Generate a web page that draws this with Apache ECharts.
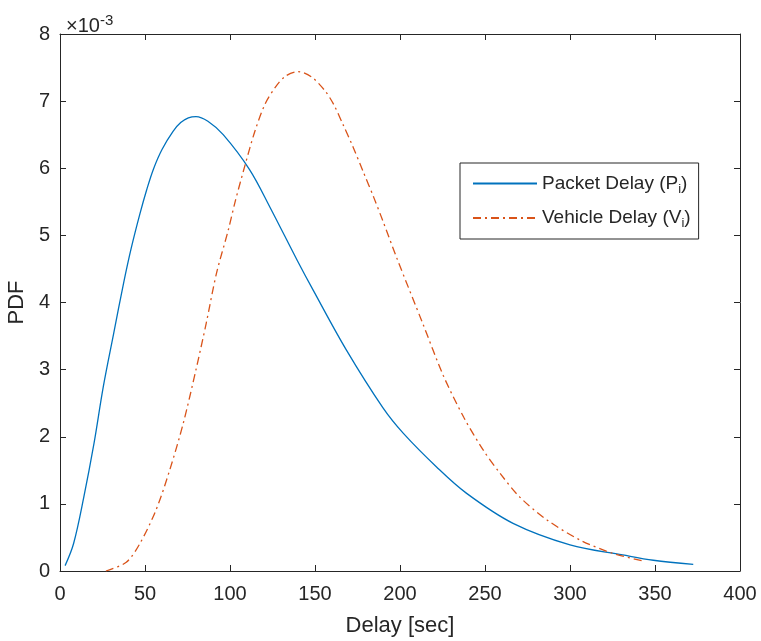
<!DOCTYPE html>
<html>
<head>
<meta charset="utf-8">
<script src="https://cdn.jsdelivr.net/npm/echarts@6/dist/echarts.min.js"></script>
<style>
  html, body { margin: 0; padding: 0; background: #fff; }
  #pdf { width: 761px; height: 641px; }
</style>
</head>
<body>
<div id="pdf"></div>
<script>
var packetX = [3, 8, 14, 20, 25.5, 31.5, 37.5, 42, 47, 51, 55, 60, 66.5, 71, 75.5, 80, 87, 96, 111.5, 123.5, 139.5, 149, 168.5, 190, 202, 221.5, 239, 266.5, 300, 331, 349, 372.5];
var packetY = [0.08, 0.41, 1.10, 1.90, 2.75, 3.53, 4.30, 4.82, 5.32, 5.68, 5.99, 6.28, 6.55, 6.68, 6.75, 6.77, 6.70, 6.50, 5.98, 5.42, 4.63, 4.18, 3.29, 2.43, 2.05, 1.55, 1.16, 0.71, 0.39, 0.24, 0.16, 0.10];

var vehicleX = [27, 39, 47, 56.5, 64.5, 72.5, 80, 86, 92, 99, 103, 109, 114.5, 120.5, 126.5, 132.5, 140, 148, 156, 161, 166.5, 172.5, 178.5, 184.5, 190, 198, 213.5, 225.5, 237.5, 249, 259, 270.5, 286.5, 306, 325.5, 343];
var vehicleY = [0, 0.13, 0.41, 0.91, 1.50, 2.20, 3.00, 3.69, 4.43, 5.08, 5.50, 6.06, 6.54, 6.95, 7.20, 7.37, 7.44, 7.36, 7.15, 6.95, 6.65, 6.31, 5.94, 5.57, 5.21, 4.67, 3.68, 2.91, 2.29, 1.80, 1.45, 1.10, 0.76, 0.46, 0.26, 0.15];

var xTicks = [0, 50, 100, 150, 200, 250, 300, 350, 400];
var yTicks = [0, 1, 2, 3, 4, 5, 6, 7, 8];

function pairs(xs, ys) {
  return xs.map(function (x, i) { return [x, ys[i] / 1000]; });
}

var axisCol = '#262626';
var font = 'Liberation Sans, Arial, Helvetica, sans-serif';

var myChart = echarts.init(document.getElementById('pdf'));

function boxAxis(pos, extra) {
  var a = {
    type: 'value',
    position: pos,
    axisLine: { show: true, onZero: false, lineStyle: { color: axisCol, width: 1 } },
    axisTick: { show: true, inside: true, length: 6, lineStyle: { color: axisCol } },
    splitLine: { show: false },
    axisLabel: { show: false }
  };
  for (var k in extra) a[k] = extra[k];
  return a;
}

var xMin = xTicks[0], xMax = xTicks[xTicks.length - 1];
var yMin = yTicks[0] / 1000, yMax = yTicks[yTicks.length - 1] / 1000;

option = {
  backgroundColor: '#fff',
  animation: false,
  textStyle: { fontFamily: font },
  grid: { left: 60, right: 21, top: 34, bottom: 70, outerBoundsMode: 'none', containLabel: false },
  title: {
    text: '\u00d710{sup|-3}',
    left: 61,
    top: 8,
    textStyle: {
      fontFamily: font, fontSize: 20, fontWeight: 'normal', color: axisCol,
      rich: { sup: { fontSize: 15, verticalAlign: 'top', padding: [0, 0, 12, 0], color: axisCol, fontFamily: font } }
    }
  },
  legend: {
    orient: 'vertical',
    left: 460,
    top: 163,
    padding: [11, 8, 9, 12],
    itemGap: 13,
    itemWidth: 64,
    itemHeight: 14,
    backgroundColor: '#fff',
    borderColor: axisCol,
    borderWidth: 1,
    borderRadius: 0,
    itemStyle: { opacity: 0 },
    data: ['Packet Delay', 'Vehicle Delay'],
    formatter: function (name) {
      return name === 'Packet Delay' ? 'Packet Delay (P{sub|i})' : 'Vehicle Delay (V{sub|i})';
    },
    textStyle: {
      fontFamily: font, fontSize: 19, color: axisCol,
      rich: { sub: { fontSize: 13, verticalAlign: 'bottom', padding: [11, 0, 0, 0], fontFamily: font, color: axisCol } }
    }
  },
  xAxis: [
    boxAxis('bottom', {
      min: xMin, max: xMax, interval: 50,
      name: 'Delay [sec]', nameLocation: 'middle', nameGap: 44,
      nameTextStyle: { fontFamily: font, fontSize: 22, color: axisCol },
      axisLabel: { show: true, margin: 13, fontSize: 20, color: axisCol, fontFamily: font }
    }),
    boxAxis('top', { min: xMin, max: xMax, interval: 50 })
  ],
  yAxis: [
    boxAxis('left', {
      min: yMin, max: yMax, interval: 0.001,
      name: 'PDF', nameLocation: 'middle', nameGap: 31,
      nameTextStyle: { fontFamily: font, fontSize: 22, color: axisCol },
      axisLabel: {
        show: true, margin: 10, fontSize: 20, color: axisCol, fontFamily: font,
        formatter: function (v) { return String(Math.round(v * 1000)); }
      }
    }),
    boxAxis('right', { min: yMin, max: yMax, interval: 0.001 })
  ],
  series: [
    {
      name: 'Packet Delay',
      type: 'line',
      xAxisIndex: 0, yAxisIndex: 0,
      smooth: 0.35,
      symbol: 'none',
      color: '#0072BD',
      lineStyle: { color: '#0072BD', width: 1.3 },
      data: pairs(packetX, packetY)
    },
    {
      name: 'Vehicle Delay',
      type: 'line',
      xAxisIndex: 0, yAxisIndex: 0,
      smooth: 0.3,
      symbol: 'none',
      color: '#D95319',
      lineStyle: { color: '#D95319', width: 1.3, type: [8, 4, 2, 4] },
      data: pairs(vehicleX, vehicleY)
    }
  ]
};

myChart.setOption(option);
</script>
</body>
</html>
